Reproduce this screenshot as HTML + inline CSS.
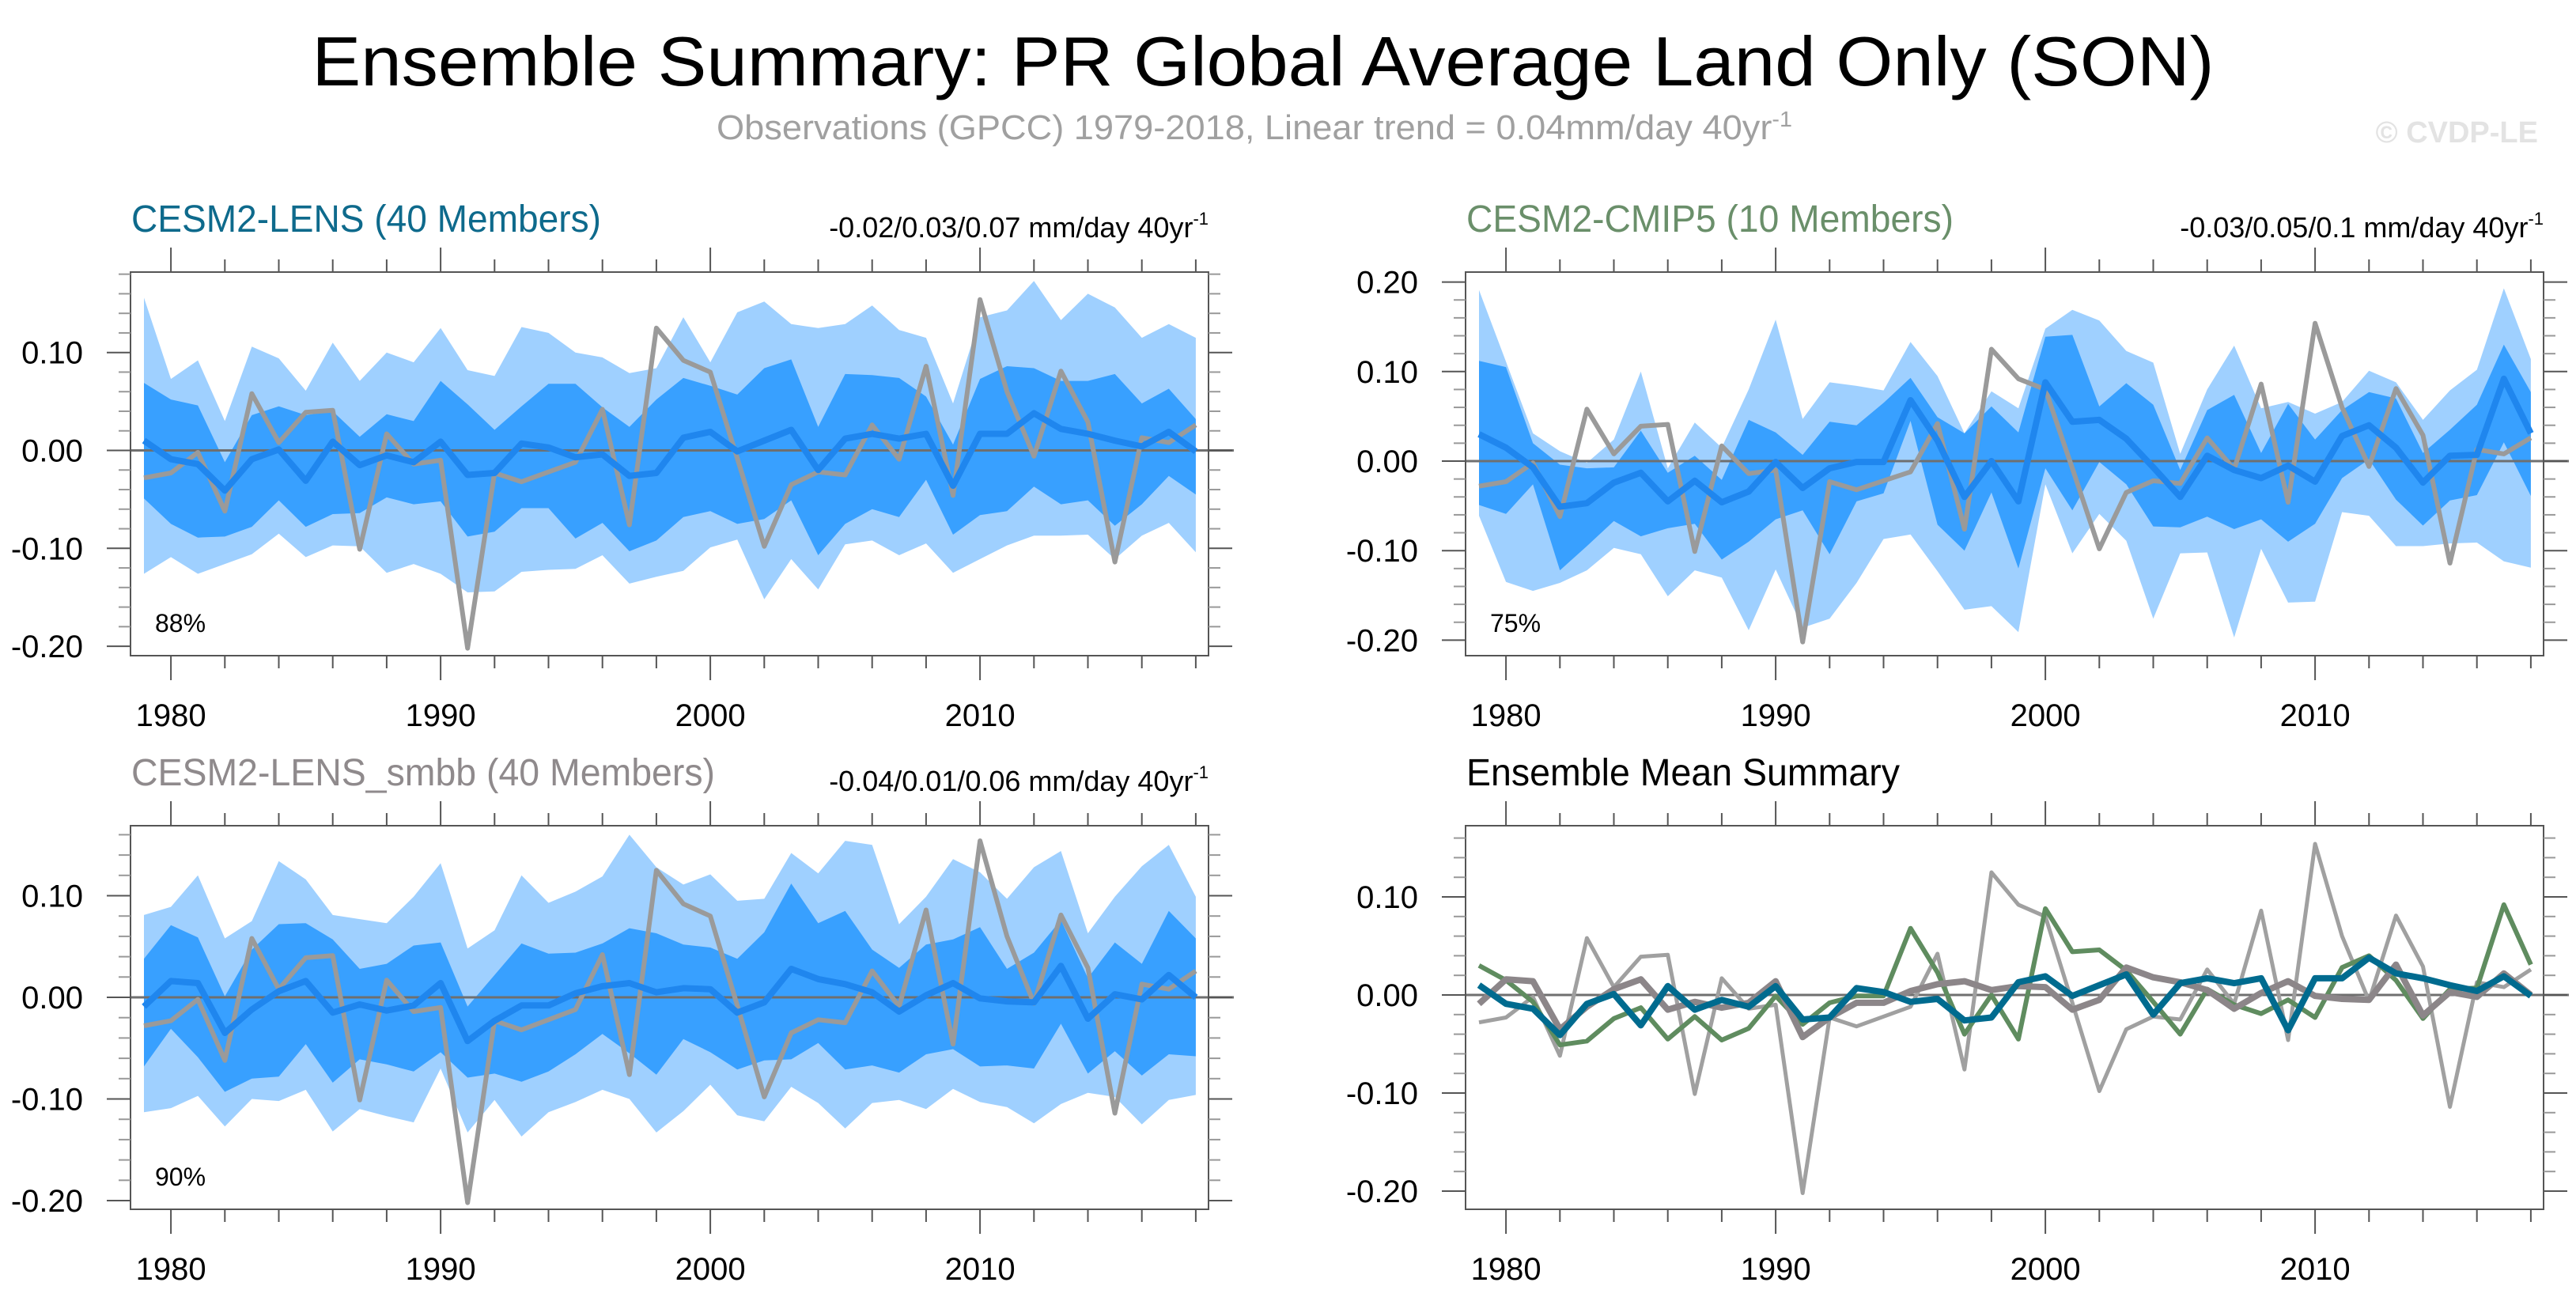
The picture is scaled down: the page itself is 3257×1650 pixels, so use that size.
<!DOCTYPE html>
<html><head><meta charset="utf-8"><style>
html,body{margin:0;padding:0;background:#fff;}
svg{display:block;font-family:"Liberation Sans",sans-serif;}
</style></head><body>
<svg id="fig" width="3257" height="1650" viewBox="0 0 3257 1650" xmlns="http://www.w3.org/2000/svg">
<text x="1597" y="108" font-size="88" text-anchor="middle" textLength="2405" lengthAdjust="spacingAndGlyphs" fill="#000">Ensemble Summary: PR Global Average Land Only (SON)</text>
<text x="906" y="176" font-size="44" fill="#a0a0a0" textLength="1360" lengthAdjust="spacingAndGlyphs">Observations (GPCC) 1979-2018, Linear trend = 0.04mm/day 40yr<tspan dy="-16" font-size="28">-1</tspan></text>
<text x="3209" y="180" font-size="38" font-weight="bold" fill="#e3e3e3" text-anchor="end">© CVDP-LE</text>
</svg>
<script>
// ---------- data ----------
const years = [];
for (let y = 1979; y <= 2018; y++) years.push(y);

const obs = [-0.028,-0.023,-0.002,-0.062,0.058,0.008,0.039,0.041,-0.101,0.017,-0.014,-0.010,-0.202,-0.023,-0.032,-0.022,-0.012,0.042,-0.076,0.125,0.092,0.080,-0.008,-0.098,-0.035,-0.022,-0.025,0.026,-0.009,0.086,-0.046,0.154,0.060,-0.006,0.081,0.029,-0.114,0.013,0.008,0.026];

const lensMean = [0.010,-0.009,-0.014,-0.041,-0.009,0.001,-0.031,0.009,-0.015,-0.005,-0.012,0.009,-0.025,-0.023,0.007,0.003,-0.007,-0.004,-0.026,-0.023,0.013,0.019,-0.001,0.010,0.021,-0.020,0.012,0.017,0.012,0.017,-0.036,0.017,0.017,0.038,0.022,0.017,0.010,0.004,0.019,-0.001];
const lensDarkHi = [0.069,0.052,0.046,-0.012,0.036,0.045,0.036,0.040,0.014,0.037,0.030,0.071,0.047,0.021,0.045,0.068,0.068,0.044,0.024,0.052,0.074,0.066,0.057,0.084,0.093,0.024,0.078,0.077,0.074,0.055,0.006,0.073,0.086,0.084,0.071,0.071,0.078,0.048,0.063,0.032];
const lensDarkLo = [-0.049,-0.075,-0.089,-0.088,-0.078,-0.051,-0.078,-0.065,-0.064,-0.048,-0.055,-0.052,-0.088,-0.083,-0.059,-0.059,-0.090,-0.074,-0.103,-0.092,-0.068,-0.062,-0.075,-0.070,-0.051,-0.107,-0.075,-0.060,-0.068,-0.030,-0.086,-0.066,-0.062,-0.037,-0.055,-0.051,-0.077,-0.055,-0.026,-0.045];
const lensLightHi = [0.156,0.073,0.092,0.030,0.106,0.094,0.061,0.110,0.071,0.100,0.090,0.125,0.082,0.076,0.126,0.120,0.100,0.095,0.079,0.084,0.136,0.090,0.141,0.152,0.129,0.125,0.129,0.148,0.123,0.115,0.048,0.136,0.143,0.173,0.133,0.160,0.146,0.115,0.129,0.115];
const lensLightLo = [-0.126,-0.109,-0.126,-0.116,-0.106,-0.085,-0.109,-0.097,-0.098,-0.125,-0.116,-0.126,-0.145,-0.144,-0.124,-0.122,-0.121,-0.107,-0.136,-0.129,-0.123,-0.099,-0.091,-0.152,-0.111,-0.142,-0.096,-0.092,-0.107,-0.095,-0.125,-0.111,-0.097,-0.087,-0.087,-0.086,-0.111,-0.087,-0.074,-0.104];

const cmipMean = [0.030,0.015,-0.007,-0.051,-0.047,-0.024,-0.013,-0.045,-0.022,-0.046,-0.034,-0.001,-0.030,-0.008,-0.001,-0.001,0.068,0.023,-0.040,0.000,-0.045,0.088,0.044,0.046,0.025,-0.007,-0.040,0.006,-0.010,-0.019,-0.005,-0.023,0.028,0.040,0.015,-0.024,0.006,0.007,0.092,0.031];
const cmipDarkHi = [0.112,0.105,0.020,-0.004,-0.008,-0.007,0.034,-0.013,0.006,-0.021,0.046,0.032,0.007,0.044,0.040,0.065,0.093,0.049,0.031,0.061,0.032,0.139,0.141,0.061,0.087,0.063,-0.010,0.057,0.074,0.009,0.064,0.024,0.057,0.077,0.070,0.009,0.035,0.063,0.130,0.077];
const cmipDarkLo = [-0.049,-0.059,-0.026,-0.122,-0.095,-0.067,-0.084,-0.075,-0.070,-0.110,-0.090,-0.065,-0.055,-0.104,-0.045,-0.036,0.045,-0.071,-0.100,-0.035,-0.120,-0.008,-0.055,-0.001,-0.026,-0.073,-0.074,-0.062,-0.076,-0.065,-0.090,-0.070,-0.019,0.002,-0.043,-0.072,-0.044,-0.038,0.021,-0.039];
const cmipLightHi = [0.191,0.111,0.031,0.011,-0.002,0.024,0.100,-0.008,0.043,0.015,0.080,0.158,0.047,0.088,0.084,0.079,0.133,0.095,0.031,0.078,0.059,0.148,0.169,0.157,0.123,0.110,0.008,0.080,0.129,0.059,0.066,0.053,0.066,0.101,0.088,0.046,0.079,0.102,0.193,0.114];
const cmipLightLo = [-0.061,-0.135,-0.145,-0.136,-0.122,-0.097,-0.104,-0.151,-0.122,-0.130,-0.189,-0.121,-0.186,-0.176,-0.136,-0.087,-0.082,-0.123,-0.166,-0.162,-0.191,-0.026,-0.103,-0.059,-0.089,-0.176,-0.103,-0.102,-0.197,-0.098,-0.158,-0.157,-0.057,-0.061,-0.095,-0.095,-0.092,-0.091,-0.112,-0.119];

const smbbMean = [-0.009,0.016,0.014,-0.035,-0.012,0.006,0.016,-0.015,-0.007,-0.013,-0.008,0.014,-0.043,-0.023,-0.008,-0.008,0.004,0.011,0.014,0.005,0.009,0.008,-0.015,-0.005,0.028,0.018,0.013,0.005,-0.014,0.002,0.014,-0.001,-0.004,-0.005,0.031,-0.021,0.003,-0.002,0.022,0.000];
const smbbDarkHi = [0.038,0.071,0.059,0.001,0.047,0.072,0.073,0.057,0.028,0.033,0.051,0.054,-0.009,0.022,0.053,0.043,0.044,0.053,0.068,0.063,0.052,0.049,0.038,0.064,0.112,0.073,0.085,0.047,0.029,0.052,0.057,0.069,0.028,0.044,0.076,0.019,0.054,0.033,0.085,0.058];
const smbbDarkLo = [-0.068,-0.031,-0.059,-0.093,-0.080,-0.078,-0.046,-0.084,-0.061,-0.066,-0.073,-0.054,-0.079,-0.075,-0.083,-0.073,-0.056,-0.036,-0.055,-0.076,-0.041,-0.054,-0.071,-0.062,-0.061,-0.045,-0.071,-0.067,-0.074,-0.056,-0.051,-0.068,-0.067,-0.070,-0.026,-0.075,-0.053,-0.077,-0.056,-0.058];
const smbbLightHi = [0.081,0.089,0.120,0.058,0.075,0.134,0.116,0.081,0.077,0.073,0.099,0.132,0.048,0.066,0.120,0.093,0.104,0.119,0.160,0.128,0.111,0.121,0.095,0.097,0.142,0.122,0.154,0.150,0.072,0.099,0.136,0.123,0.097,0.128,0.144,0.063,0.099,0.129,0.150,0.099];
const smbbLightLo = [-0.113,-0.109,-0.097,-0.127,-0.100,-0.102,-0.091,-0.132,-0.110,-0.117,-0.123,-0.070,-0.133,-0.101,-0.137,-0.113,-0.103,-0.091,-0.100,-0.133,-0.112,-0.086,-0.116,-0.122,-0.088,-0.104,-0.129,-0.104,-0.101,-0.110,-0.090,-0.103,-0.108,-0.124,-0.105,-0.094,-0.098,-0.125,-0.101,-0.096];

const xTickLabels = [1980, 1990, 2000, 2010];
const yTicksA = [0.10, 0.00, -0.10, -0.20];
const yTicksB = [0.20, 0.10, 0.00, -0.10, -0.20];

// ---------- drawing ----------
const NS = 'http://www.w3.org/2000/svg';
const svg = document.getElementById('fig');
function mk(tag, attrs, parent) {
  const e = document.createElementNS(NS, tag);
  for (const k in attrs) e.setAttribute(k, attrs[k]);
  (parent || svg).appendChild(e);
  return e;
}

function panel(cfg) {
  const g = mk('g', {});
  
  
  const xs = y => cfg.x0 + 34.1 * (y - 1979);
  const ys = v => cfg.zero - v * cfg.perUnit;
  const L = cfg.left, R = cfg.right, T = cfg.top, B = cfg.bottom;

  function band(hi, lo, color, nm) {
    let d = '';
    years.forEach((yr, i) => { d += (i ? 'L' : 'M') + xs(yr).toFixed(1) + ',' + ys(hi[i]).toFixed(1); });
    for (let i = years.length - 1; i >= 0; i--) d += 'L' + xs(years[i]).toFixed(1) + ',' + ys(lo[i]).toFixed(1);
    const p = mk('path', { d: d + 'Z', fill: color }, g);
    
    
  }
  function line(vals, color, w, nm) {
    const pts = years.map((yr, i) => xs(yr).toFixed(1) + ',' + ys(vals[i]).toFixed(1)).join(' ');
    const p = mk('polyline', { points: pts, fill: 'none', stroke: color, 'stroke-width': w, 'stroke-linejoin': 'round' }, g);
    
    
  }
  if (cfg.bands) {
    band(cfg.bands[0], cfg.bands[1], '#9fd0ff', 'light-spread-band');
    band(cfg.bands[2], cfg.bands[3], '#38a0ff', 'dark-spread-band');
  }
  const z = mk('line', { x1: L, x2: R + 32, y1: ys(0), y2: ys(0), stroke: '#6f6f6f', 'stroke-width': 3 }, g);
  
  
  cfg.lines.forEach(l => line(l[0], l[1], l[2], l[3]));

  const fr = mk('rect', { x: L, y: T, width: R - L, height: B - T, fill: 'none', stroke: '#555', 'stroke-width': 2 }, g);
  
  

  for (let yr = 1980; yr <= 2018; yr += 2) {
    const major = yr % 10 === 0;
    const x = xs(yr);
    mk('line', { x1: x, x2: x, y1: T, y2: T - (major ? 31 : 16), stroke: '#555', 'stroke-width': 2 }, g);
    mk('line', { x1: x, x2: x, y1: B, y2: B + (major ? 31 : 16), stroke: '#555', 'stroke-width': 2 }, g);
  }
  xTickLabels.forEach(yr => {
    const t = mk('text', { x: xs(yr), y: B + 89, 'font-size': 40, 'text-anchor': 'middle', fill: '#000' }, g);
    t.textContent = yr;
    
    
  });
  for (let k = -30; k <= 30; k++) {
    const v = k * 0.02;
    const y = ys(v);
    if (y < T + 1 || y > B - 1) continue;
    const major = k % 5 === 0;
    const len = major ? 30 : 15;
    mk('line', { x1: L, x2: L - len, y1: y, y2: y, stroke: major ? '#555' : '#999', 'stroke-width': 2 }, g);
    mk('line', { x1: R, x2: R + len, y1: y, y2: y, stroke: major ? '#555' : '#999', 'stroke-width': 2 }, g);
  }
  cfg.yTicks.forEach(v => {
    const t = mk('text', { x: L - 60, y: ys(v) + 14, 'font-size': 40, 'text-anchor': 'end', fill: '#000' }, g);
    t.textContent = v.toFixed(2);
    
    
  });
  const tt = mk('text', { x: L + 1, y: T - 51, 'font-size': 48, fill: cfg.titleColor, textLength: cfg.titleLen, lengthAdjust: 'spacingAndGlyphs' }, g);
  tt.textContent = cfg.title;
  
  
  if (cfg.trend) {
    const tr = mk('text', { x: R, y: T - 44, 'font-size': 36, 'text-anchor': 'end', fill: '#000' }, g);
    
    
    tr.appendChild(document.createTextNode(cfg.trend));
    const sp = mk('tspan', { dy: -16, 'font-size': 22 }, tr);
    sp.textContent = '-1';
  }
  if (cfg.pct) {
    const pt = mk('text', { x: L + 31, y: B - 30, 'font-size': 32, fill: '#000' }, g);
    pt.textContent = cfg.pct;
    
    
  }
}

panel({ name: 'panel-cesm2-lens', left: 165, right: 1528, top: 344, bottom: 829, x0: 182, zero: 569.5, perUnit: 1238,
  bands: [lensLightHi, lensLightLo, lensDarkHi, lensDarkLo],
  lines: [[obs, '#9a9a9a', 6, 'obs-line'], [lensMean, '#1f86ee', 8, 'ensemble-mean-line']],
  yTicks: yTicksA, title: 'CESM2-LENS (40 Members)', titleColor: '#0e6a8c', titleLen: 594,
  trend: '-0.02/0.03/0.07 mm/day 40yr', pct: '88%' });

panel({ name: 'panel-cesm2-cmip5', left: 1853, right: 3216, top: 344, bottom: 829, x0: 1870, zero: 583, perUnit: 1132,
  bands: [cmipLightHi, cmipLightLo, cmipDarkHi, cmipDarkLo],
  lines: [[obs, '#9a9a9a', 6, 'obs-line'], [cmipMean, '#1f86ee', 8, 'ensemble-mean-line']],
  yTicks: yTicksB, title: 'CESM2-CMIP5 (10 Members)', titleColor: '#6a8f6a', titleLen: 616,
  trend: '-0.03/0.05/0.1 mm/day 40yr', pct: '75%' });

panel({ name: 'panel-cesm2-lens-smbb', left: 165, right: 1528, top: 1044, bottom: 1529, x0: 182, zero: 1261, perUnit: 1285,
  bands: [smbbLightHi, smbbLightLo, smbbDarkHi, smbbDarkLo],
  lines: [[obs, '#9a9a9a', 6, 'obs-line'], [smbbMean, '#1f86ee', 8, 'ensemble-mean-line']],
  yTicks: yTicksA, title: 'CESM2-LENS_smbb (40 Members)', titleColor: '#8f8a8c', titleLen: 738,
  trend: '-0.04/0.01/0.06 mm/day 40yr', pct: '90%' });

panel({ name: 'panel-ensemble-mean-summary', left: 1853, right: 3216, top: 1044, bottom: 1529, x0: 1870, zero: 1258, perUnit: 1240,
  bands: null,
  lines: [[obs, '#a0a0a0', 5, 'obs-line'], [cmipMean, '#5f8c5f', 6, 'cmip5-mean-line'], [smbbMean, '#8c8689', 8, 'smbb-mean-line'], [lensMean, '#006b8f', 8, 'lens-mean-line']],
  yTicks: yTicksA, title: 'Ensemble Mean Summary', titleColor: '#000', titleLen: 548,
  trend: null, pct: null });
</script>
</body></html>
